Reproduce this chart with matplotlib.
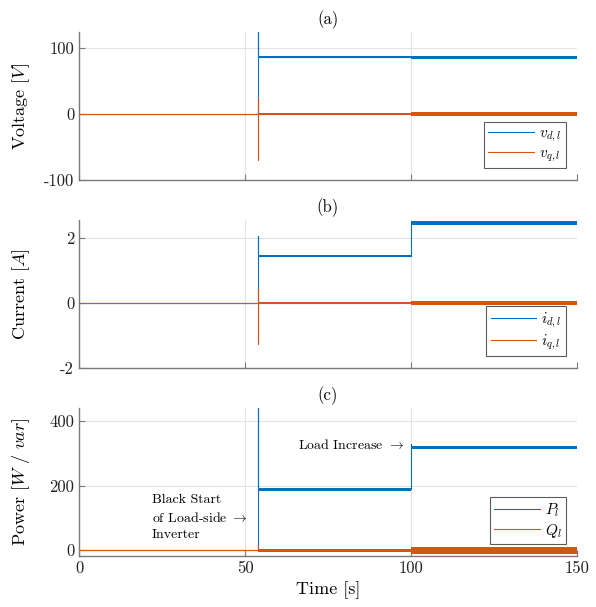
import matplotlib
matplotlib.use('Agg')
import matplotlib.pyplot as plt
import numpy as np

plt.rcParams['font.family'] = ['cmr10', 'DejaVu Serif']
plt.rcParams['mathtext.fontset'] = 'cm'
plt.rcParams['axes.unicode_minus'] = False
plt.rcParams['axes.formatter.use_mathtext'] = False

blue = '#0072BD'
orange = '#D95319'
grey = '#7a7a7a'

# time breakpoints (s): start, black start, load step, end
t_start = 0
t_black = 54
t_step = 100
t_end = 150

# (a) voltage [V]
vd_levels = [0, 86, 86]
vd_spike = [0, 130]
vd_band = [0, 1.5, 2.5]
vq_levels = [0, 0, 0]
vq_spike = [-70, 24]
vq_band = [0, 1.5, 2.5]

# (b) current [A]
id_levels = [0, 1.45, 2.47]
id_spike = [0, 2.05]
id_band = [0, 0.04, 0.06]
iq_levels = [0, 0, 0]
iq_spike = [-1.25, 0.42]
iq_band = [0, 0.04, 0.07]

# (c) power [W / var]
P_levels = [0, 188, 318]
P_spike = [0, 460]
P_band = [0, 4, 6]
P_overshoot = 330
Q_levels = [0, 0, 0]
Q_spike = [0, 12]
Q_band = [1.5, 5, 11]


def draw(ax, levels, spike, band, color, label, overshoot=None):
    t = [t_start, t_black, t_black, t_black, t_black, t_step, t_step]
    y = [levels[0], levels[0], spike[0], spike[1], levels[1], levels[1], levels[2]]
    if overshoot is not None:
        t += [t_step]
        y += [overshoot]
    t += [t_step, t_end]
    y += [levels[2], levels[2]]
    ax.plot(t, y, color=color, lw=0.8, label=label)
    segs = [(t_start, t_black), (t_black, t_step), (t_step, t_end)]
    for (a, b), lv, bw in zip(segs, levels, band):
        if bw > 0:
            ax.fill_between([a, b], [lv - bw] * 2, [lv + bw] * 2,
                            color=color, lw=0, alpha=1.0 if a > 0 else 0.5)


fig, axes = plt.subplots(3, 1, figsize=(5.96, 6.07), dpi=100, sharex=True)
fig.subplots_adjust(left=0.1326, right=0.968, top=0.947, bottom=0.084, hspace=0.27)

ax = axes[0]
draw(ax, vd_levels, vd_spike, vd_band, blue, r'$v_{d,l}$')
draw(ax, vq_levels, vq_spike, vq_band, orange, r'$v_{q,l}$')
ax.set_ylim(-100, 124)
ax.set_yticks([-100, 0, 100])
ax.set_ylabel(r'Voltage $[V]$')
ax.set_title('(a)')

ax = axes[1]
draw(ax, id_levels, id_spike, id_band, blue, r'$i_{d,l}$')
draw(ax, iq_levels, iq_spike, iq_band, orange, r'$i_{q,l}$')
ax.set_ylim(-2, 2.55)
ax.set_yticks([-2, 0, 2])
ax.set_yticklabels(['-2', '0', '2'])
ax.set_ylabel(r'Current $[A]$')
ax.set_title('(b)')

ax = axes[2]
draw(ax, P_levels, P_spike, P_band, blue, r'$P_l$', overshoot=P_overshoot)
draw(ax, Q_levels, Q_spike, Q_band, orange, r'$Q_l$')
ax.set_ylim(-18, 440)
ax.set_yticks([0, 200, 400])
ax.set_ylabel(r'Power $[W\ /\ var]$')
ax.set_title('(c)')
ax.set_xlabel('Time [s]', fontsize=13)
ax.text(98, 325, r'Load Increase $\rightarrow$', ha='right', va='center', fontsize=10)
ax.text(22, 155, 'Black Start', ha='left', va='center', fontsize=10)
ax.text(22, 100, r'of Load-side $\rightarrow$', ha='left', va='center', fontsize=10)
ax.text(22, 47, 'Inverter', ha='left', va='center', fontsize=10)

for ax in axes:
    ax.set_xlim(0, 150)
    ax.set_xticks([0, 50, 100, 150])
    ax.grid(True, color='#e3e3e3', lw=0.8)
    ax.set_axisbelow(True)
    for s in ['top', 'right']:
        ax.spines[s].set_visible(False)
    for s in ['left', 'bottom']:
        ax.spines[s].set_color(grey)
        ax.spines[s].set_linewidth(1.0)
    ax.tick_params(direction='in', length=4, color=grey, labelsize=12, labelcolor='#222222')
    ax.title.set_fontsize(12)
    ax.yaxis.label.set_fontsize(13)
    ax.yaxis.set_label_coords(-0.095, 0.5)
    leg = ax.legend(loc='lower right', fontsize=11, frameon=True, fancybox=False,
                    handlelength=3.0, borderpad=0.3, labelspacing=0.15, handletextpad=0.3,
                    borderaxespad=0, bbox_to_anchor=(0.978, 0.08))
    leg.get_frame().set_edgecolor('#333333')
    leg.get_frame().set_linewidth(0.8)
    for h in leg.get_lines():
        h.set_linewidth(0.8)

fig.savefig('out.png', dpi=100)
